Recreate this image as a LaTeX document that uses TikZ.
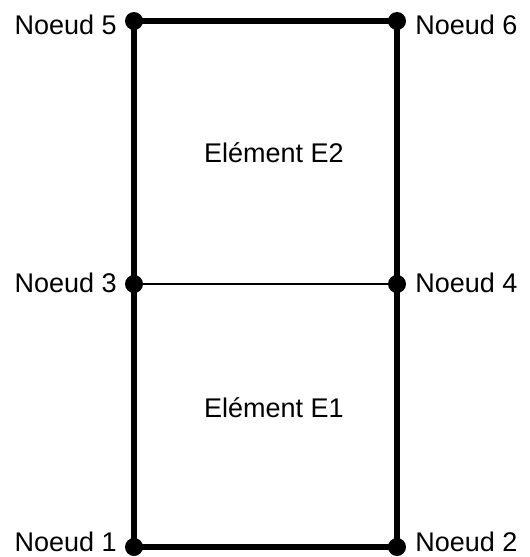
\documentclass[tikz,border=0pt]{standalone}
\usepackage{fontspec}
\setmainfont{Liberation Sans}
\usetikzlibrary{positioning}

\begin{document}
\begin{tikzpicture}[
  x=1pt, y=-1pt,
  noeud/.style={circle, fill=black, inner sep=0pt, minimum size=18pt},
  etiquette/.style={font=\fontsize{27}{30}\selectfont, inner sep=0pt},
  element/.style={font=\fontsize{27}{30}\selectfont, inner sep=0pt, anchor=base},
  bord/.style={line width=5.5pt},
  interne/.style={line width=1.3pt}
]
\useasboundingbox (0,0) rectangle (530,557);

% noeuds du maillage
\node[noeud] (n1) at (134,547) {};
\node[noeud] (n2) at (397,547) {};
\node[noeud] (n3) at (134,284) {};
\node[noeud] (n4) at (397,284) {};
\node[noeud] (n5) at (134,21) {};
\node[noeud] (n6) at (397,21) {};

\node[etiquette, anchor=base east] (l1) at ([xshift=-8pt,yshift=-4pt]n1.west) {Noeud 1};
\node[etiquette, anchor=base west] (l2) at ([xshift=9pt,yshift=-4pt]n2.east) {Noeud 2};
\node[etiquette, anchor=base east] (l3) at ([xshift=-8pt,yshift=-8pt]n3.west) {Noeud 3};
\node[etiquette, anchor=base west] (l4) at ([xshift=9pt,yshift=-8pt]n4.east) {Noeud 4};
\node[etiquette, anchor=base east] (l5) at ([xshift=-8pt,yshift=-13pt]n5.west) {Noeud 5};
\node[etiquette, anchor=base west] (l6) at ([xshift=9pt,yshift=-13pt]n6.east) {Noeud 6};

% elements
\node[element] (e2) at (274,162) {Elément E2};
\node[element] (e1) at (274,417) {Elément E1};

\draw[bord] (n1.center) -- (n2.center) -- (n4.center) -- (n6.center)
  -- (n5.center) -- (n3.center) -- cycle;
\draw[interne] (n3) -- (n4);

\end{tikzpicture}
\end{document}
